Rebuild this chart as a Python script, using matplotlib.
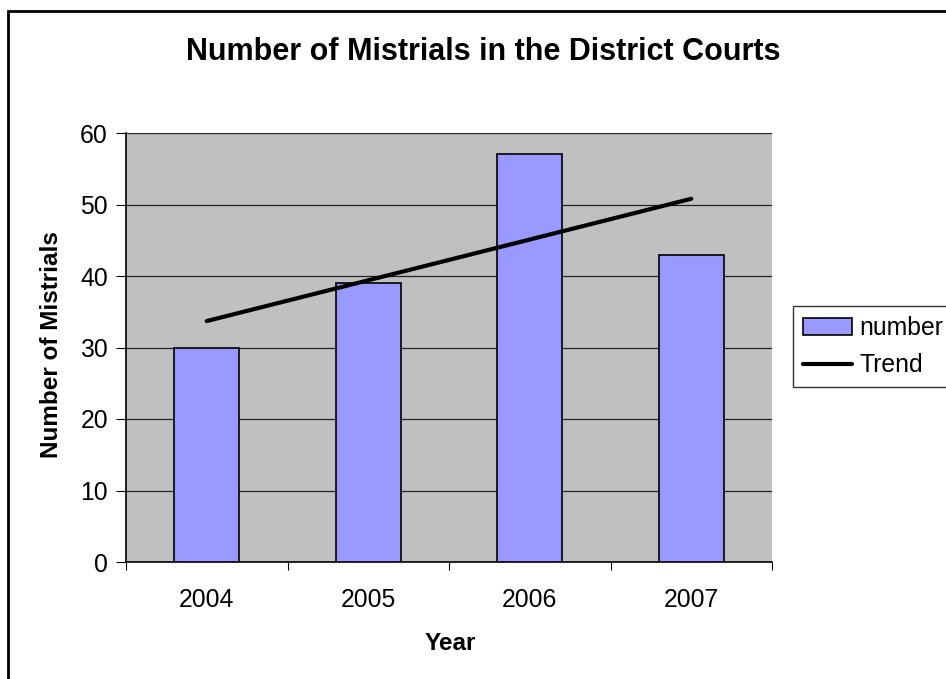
import matplotlib
matplotlib.use("Agg")
import matplotlib.pyplot as plt
from matplotlib.patches import Rectangle

plt.rcParams['font.family'] = ['Liberation Sans', 'DejaVu Sans']

## Data
years = ["2004", "2005", "2006", "2007"]
mistrials = [30, 39, 57, 43]
trend = [33.7, 39.4, 45.1, 50.8]  # linear trend line as drawn

W, H = 946, 679
fig = plt.figure(figsize=(W / 100, H / 100), dpi=100)

# outer chart border (right/bottom edges fall outside the picture)
fig.patches.append(Rectangle((8 / W, -1), 2, 2 - 11 / H, transform=fig.transFigure,
                             fill=False, edgecolor="black", linewidth=2))

# plot area in pixel coordinates
left, right, top, bottom = 126, 772, 133, 562
ax = fig.add_axes([left / W, 1 - bottom / H, (right - left) / W, (bottom - top) / H])
ax.set_facecolor("#C0C0C0")

x = range(len(years))
ax.bar(x, mistrials, width=0.4, color="#9999FF", edgecolor="black", linewidth=1.2, label="number", zorder=3)
ax.plot(x, trend, color="black", linewidth=3, solid_capstyle="round", label="Trend", zorder=4)

ax.set_xlim(-0.5, 3.5)
ax.set_ylim(0, 60)
ax.set_yticks(range(0, 61, 10))
ax.yaxis.grid(True, color="#222222", linewidth=0.9, zorder=1)
ax.set_axisbelow(True)
ax.set_xticks([-0.5, 0.5, 1.5, 2.5, 3.5])
ax.set_xticklabels([])
ax.set_xticks(list(x), minor=True)
ax.set_xticklabels(years, minor=True)
ax.tick_params(axis="x", which="minor", length=0, pad=19, labelsize=17.8)
ax.tick_params(axis="x", which="major", length=6, direction="out", color="black")
ax.tick_params(axis="y", length=7, direction="out", labelsize=17.8, pad=6)

for side in ["top", "right"]:
    ax.spines[side].set_visible(False)
ax.spines["left"].set_color("black")
ax.spines["bottom"].set_color("black")
ax.spines["left"].set_linewidth(1.2)
ax.spines["bottom"].set_linewidth(1.2)

fig.text(450 / W, 1 - 643 / H, "Year", ha="center", va="center", fontsize=17.5, fontweight="bold")
fig.text(51 / W, 1 - 345 / H, "Number of Mistrials", ha="center", va="center",
         rotation=90, fontsize=17.5, fontweight="bold")
fig.text(483 / W, 1 - 52 / H, "Number of Mistrials in the District Courts",
         ha="center", va="center", fontsize=22, fontweight="bold")

handles, labels = ax.get_legend_handles_labels()
order = [labels.index("number"), labels.index("Trend")]
leg = fig.legend([handles[i] for i in order], [labels[i] for i in order],
                 loc="upper left", bbox_to_anchor=(793 / W, 1 - 306 / H), fontsize=17.8,
                 frameon=True, fancybox=False, edgecolor="black", borderpad=0.4,
                 borderaxespad=0, handlelength=2.0, handletextpad=0.3, labelspacing=0.55)
leg.get_frame().set_linewidth(1)

fig.savefig("out.png", dpi=100)
plt.close("all")
